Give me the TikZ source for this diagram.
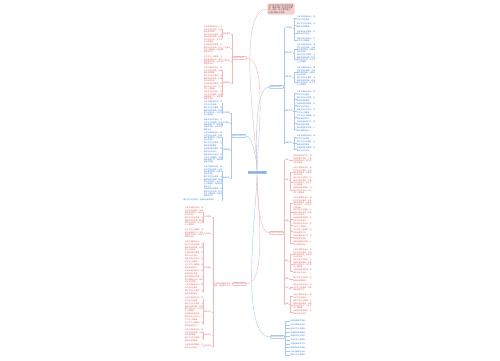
\documentclass[tikz,border=0pt]{standalone}
\usepackage{fontspec}
\newfontfamily\cjk{Noto Sans CJK SC}
\XeTeXlinebreaklocale "zh"
\XeTeXlinebreakskip = 0pt plus 0.5pt
\usetikzlibrary{positioning}
\definecolor{mred}{HTML}{E06A6A}
\definecolor{mblue}{HTML}{4A86D0}
\definecolor{lred}{HTML}{F2B8B8}
\definecolor{lblue}{HTML}{A8C8EE}
\definecolor{tpink}{HTML}{F8CFCF}
\definecolor{rblue}{HTML}{A9C9EE}
\newcommand{\seg}[1]{\ifcase#1 加强班级管理工作，\or 提高课堂教学质量，\or 认真开展教研活动，\or 做好学生安全教育，\or 全面推进素质教育，\or 积极参加业务培训，\or 关注学生心理健康，\fi}
\newcommand{\filltxt}[2]{\foreach \k in {1,...,#1}{\pgfmathtruncatemacro\m{mod(\k+#2,7)}\seg{\m}}}
\tikzset{
  leaf/.style={anchor=north west,inner sep=0.2pt,text width=18.3pt,align=left},
  leafR/.style={leaf,text=mred},
  leafB/.style={leaf,text=mblue},
  subR/.style={inner sep=0.3pt,text=mred},
  subB/.style={inner sep=0.3pt,text=mblue},
  mainR/.style={draw=mred!60,rounded corners=0.5pt,inner sep=0.6pt,text=mred},
  mainB/.style={draw=mblue!60,rounded corners=0.5pt,inner sep=0.6pt,text=mblue},
  lnR/.style={draw=lred,line width=0.25pt},
  lnB/.style={draw=lblue,line width=0.25pt},
  curve/.style={line width=0.4pt,looseness=0.5}
}

\begin{document}
\begin{tikzpicture}[x=1pt,y=-1pt,font=\cjk\fontsize{1.8}{2.3}\selectfont]
\fill[white] (0,0) rectangle (500,360);

% title and root
\node[fill=tpink,rounded corners=2pt,inner sep=1.2pt,text width=25pt,align=left,text=black!70,
  font=\cjk\fontsize{2}{2.4}\selectfont] (title) at (281,9)
  {2023年学校工作计划范文精选（通用6篇）时间过得真快，新的一年又要开始了，让我们做好计划吧};
\node[fill=rblue,inner sep=0.5pt,text=mblue!80!black] (root) at (257,172.5) {学校工作计划范文精选};

% main branches
\node[mainR] (brA) at (239.5,58) {学校工作计划一};
\node[mainB] (brB) at (239,136) {学校工作计划二};
\node[mainB] (brC) at (276.5,87) {学校工作计划三};
\node[mainR] (brD) at (276.5,233) {学校工作计划四};
\node[mainR] (brE) at (239.5,284) {学校工作计划五};
\node[mainB] (brF) at (277.5,337) {学校工作计划六};

\draw[lnR,curve] (root.north) to[out=90,in=180] (title.west);
\draw[lnR,curve] (root.north) to[out=90,in=0] (brA.east);
\draw[lnB,curve] (root.north) to[out=90,in=0] (brB.east);
\draw[lnB,curve] (root.north) to[out=90,in=180] (brC.west);
\draw[lnR,curve] (root.south) to[out=-90,in=180] (brD.west);
\draw[lnR,curve] (root.south) to[out=-90,in=0] (brE.east);
\draw[lnB,curve] (root.south) to[out=-90,in=180] (brF.west);

% branch A
\foreach \y/\s [count=\i] in {34/指导思想,48/工作目标,61/主要任务,83/具体措施}{
  \node[subR,anchor=east] (a\i) at (230.7,\y) {\s};
  \draw[lnR] (brA.west) -- ++(-0.5,0) |- (a\i.east);}
\foreach \y/\n [count=\i] in {26/3,33.5/4}{
  \node[leafR] (a1-\i) at (203.5,\y) {\filltxt{\n}{\i}};
  \draw[lnR] (a1.west) -- ++(-0.3,0) |- (a1-\i.east);}
\foreach \y/\n [count=\i] in {44/4}{
  \node[leafR] (a2-\i) at (203.5,\y) {\filltxt{\n}{3}};
  \draw[lnR] (a2.west) -- ++(-0.3,0) |- (a2-\i.east);}
\foreach \y/\n [count=\i] in {56/4}{
  \node[leafR] (a3-\i) at (203.5,\y) {\filltxt{\n}{5}};
  \draw[lnR] (a3.west) -- ++(-0.3,0) |- (a3-\i.east);}
\foreach \y/\n [count=\i] in {67/3,75/3,83/3,91/4}{
  \node[leafR] (a4-\i) at (203.5,\y) {\filltxt{\n}{\i}};
  \draw[lnR] (a4.west) -- ++(-0.3,0) |- (a4-\i.east);}

% branch B
\foreach \y/\s [count=\i] in {113/工作思路,123/工作重点,150/主要措施,178/具体安排}{
  \node[subB,anchor=east] (b\i) at (230.2,\y) {\s};
  \draw[lnB] (brB.west) -- ++(-0.5,0) |- (b\i.east);}
\foreach \y/\n [count=\i] in {101/2,107/4}{
  \node[leafB] (b1-\i) at (203.5,\y) {\filltxt{\n}{\i}};
  \draw[lnB] (b1.west) -- ++(-0.3,0) |- (b1-\i.east);}
\foreach \y/\n [count=\i] in {119/5}{
  \node[leafB] (b2-\i) at (203.5,\y) {\filltxt{\n}{4}};
  \draw[lnB] (b2.west) -- ++(-0.3,0) |- (b2-\i.east);}
\foreach \y/\n [count=\i] in {132/4,142/2,148/2,154/4}{
  \node[leafB] (b3-\i) at (203.5,\y) {\filltxt{\n}{\i}};
  \draw[lnB] (b3.west) -- ++(-0.3,0) |- (b3-\i.east);}
\foreach \y/\n [count=\i] in {166/4,176/5,188/4}{
  \node[leafB] (b4-\i) at (203.5,\y) {\filltxt{\n}{\i}};
  \draw[lnB] (b4.west) -- ++(-0.3,0) |- (b4-\i.east);}
\node[leafB,text width=38pt] (b4-4) at (183,198.5) {\filltxt{2}{2}};
\draw[lnB] (b4.west) -- ++(-0.3,0) |- (b4-4.east);

% branch C
\foreach \y/\s [count=\i] in {28/工作目标,53/教学工作,77/德育工作,111/教研工作,143/后勤工作}{
  \node[subB,anchor=west] (c\i) at (284.5,\y) {\s};
  \draw[lnB] (brC.east) -- ++(0.5,0) |- (c\i.west);}
\foreach \y/\n [count=\i] in {16/2,23/2,30.5/2,37.5/2}{
  \node[leafB] (c1-\i) at (296.5,\y) {\filltxt{\n}{\i}};
  \draw[lnB] (c1.east) -- ++(1,0) |- (c1-\i.west);}
\foreach \y/\n [count=\i] in {44/4,54/4}{
  \node[leafB] (c2-\i) at (296.5,\y) {\filltxt{\n}{\i}};
  \draw[lnB] (c2.east) -- ++(1,0) |- (c2-\i.west);}
\foreach \y/\n [count=\i] in {67/4,77/4}{
  \node[leafB] (c3-\i) at (296.5,\y) {\filltxt{\n}{\i}};
  \draw[lnB] (c3.east) -- ++(1,0) |- (c3-\i.west);}
\foreach \y/\n [count=\i] in {91/2,97/2,103/2,109/2,115/2,121/2,127/2}{
  \node[leafB] (c4-\i) at (296.5,\y) {\filltxt{\n}{\i}};
  \draw[lnB] (c4.east) -- ++(1,0) |- (c4-\i.west);}
\foreach \y/\n [count=\i] in {135/2,141/2,147/2}{
  \node[leafB] (c5-\i) at (296.5,\y) {\filltxt{\n}{\i}};
  \draw[lnB] (c5.east) -- ++(1,0) |- (c5-\i.west);}

% branch D
\foreach \y/\s [count=\i] in {160/目标,180/任务,221/措施,261/教学,279/德育,288/安全,304/后勤}{
  \node[subR,anchor=west] (d\i) at (284.5,\y) {\s};
  \draw[lnR] (brD.east) -- ++(0.5,0) |- (d\i.west);}
\foreach \y/\n [count=\i] in {155/4}{
  \node[leafR] (d1-\i) at (293,\y) {\filltxt{\n}{6}};
  \draw[lnR] (d1.east) -- ++(1,0) |- (d1-\i.west);}
\foreach \y/\n [count=\i] in {167/4,177/4,187/3}{
  \node[leafR] (d2-\i) at (293,\y) {\filltxt{\n}{\i}};
  \draw[lnR] (d2.east) -- ++(1,0) |- (d2-\i.west);}
\foreach \y/\n [count=\i] in {197/5,209/3,217/2,223/2,229/2,235/2,241/2}{
  \node[leafR] (d3-\i) at (293,\y) {\filltxt{\n}{\i}};
  \draw[lnR] (d3.east) -- ++(1,0) |- (d3-\i.west);}
\foreach \y/\n [count=\i] in {249/4,259/4,269/2}{
  \node[leafR] (d4-\i) at (293,\y) {\filltxt{\n}{\i}};
  \draw[lnR] (d4.east) -- ++(1,0) |- (d4-\i.west);}
\foreach \y/\n [count=\i] in {277/2}{
  \node[leafR] (d5-\i) at (293,\y) {\filltxt{\n}{2}};
  \draw[lnR] (d5.east) -- ++(1,0) |- (d5-\i.west);}
\foreach \y/\n [count=\i] in {284/3}{
  \node[leafR] (d6-\i) at (293,\y) {\filltxt{\n}{4}};
  \draw[lnR] (d6.east) -- ++(1,0) |- (d6-\i.west);}
\foreach \y/\n [count=\i] in {294/2,300/4,310/2}{
  \node[leafR] (d7-\i) at (293,\y) {\filltxt{\n}{\i}};
  \draw[lnR] (d7.east) -- ++(1,0) |- (d7-\i.west);}

% branch E
\node[leafR,anchor=east,text width=17pt] (e0) at (231,284.5) {为全面提高教育教学质量，特制定本计划};
\draw[lnR] (brE.west) -- (e0.east);
\foreach \y/\s [count=\i] in {217/工作思路,234/工作目标,268/工作措施,312/具体工作,335/活动安排,346/月份安排}{
  \node[subR,anchor=east] (e\i) at (211.5,\y) {\s};
  \draw[lnR] (e0.west) -- ++(-0.5,0) |- (e\i.east);}
\foreach \y/\n [count=\i] in {207/4,217/4}{
  \node[leafR] (e1-\i) at (184.5,\y) {\filltxt{\n}{\i}};
  \draw[lnR] (e1.west) -- ++(-0.3,0) |- (e1-\i.east);}
\foreach \y/\n [count=\i] in {229/4}{
  \node[leafR] (e2-\i) at (184.5,\y) {\filltxt{\n}{5}};
  \draw[lnR] (e2.west) -- ++(-0.3,0) |- (e2-\i.east);}
\foreach \y/\n [count=\i] in {241/1,244/3,252/2,258/2,264/2,270/2,276/3,284/2,290/2}{
  \node[leafR] (e3-\i) at (184.5,\y) {\filltxt{\n}{\i}};
  \draw[lnR] (e3.west) -- ++(-0.3,0) |- (e3-\i.east);}
\foreach \y/\n [count=\i] in {297/2,303/4,313/1,316/2,322/2}{
  \node[leafR] (e4-\i) at (184.5,\y) {\filltxt{\n}{\i}};
  \draw[lnR] (e4.west) -- ++(-0.3,0) |- (e4-\i.east);}
\foreach \y/\n [count=\i] in {329/3,337/2}{
  \node[leafR] (e5-\i) at (184.5,\y) {\filltxt{\n}{\i}};
  \draw[lnR] (e5.west) -- ++(-0.3,0) |- (e5-\i.east);}
\foreach \y/\n [count=\i] in {344/2}{
  \node[leafR] (e6-\i) at (184.5,\y) {\filltxt{\n}{3}};
  \draw[lnR] (e6.west) -- ++(-0.3,0) |- (e6-\i.east);}

% branch F
\foreach \i in {1,...,10}{
  \node[subB,anchor=west] (f\i) at (290,317.2+3.8*\i) {\pgfmathtruncatemacro\m{mod(\i,7)}\seg{\m}};
  \draw[lnB] (brF.east) -- ++(0.8,0) |- (f\i.west);}
\end{tikzpicture}
\end{document}
